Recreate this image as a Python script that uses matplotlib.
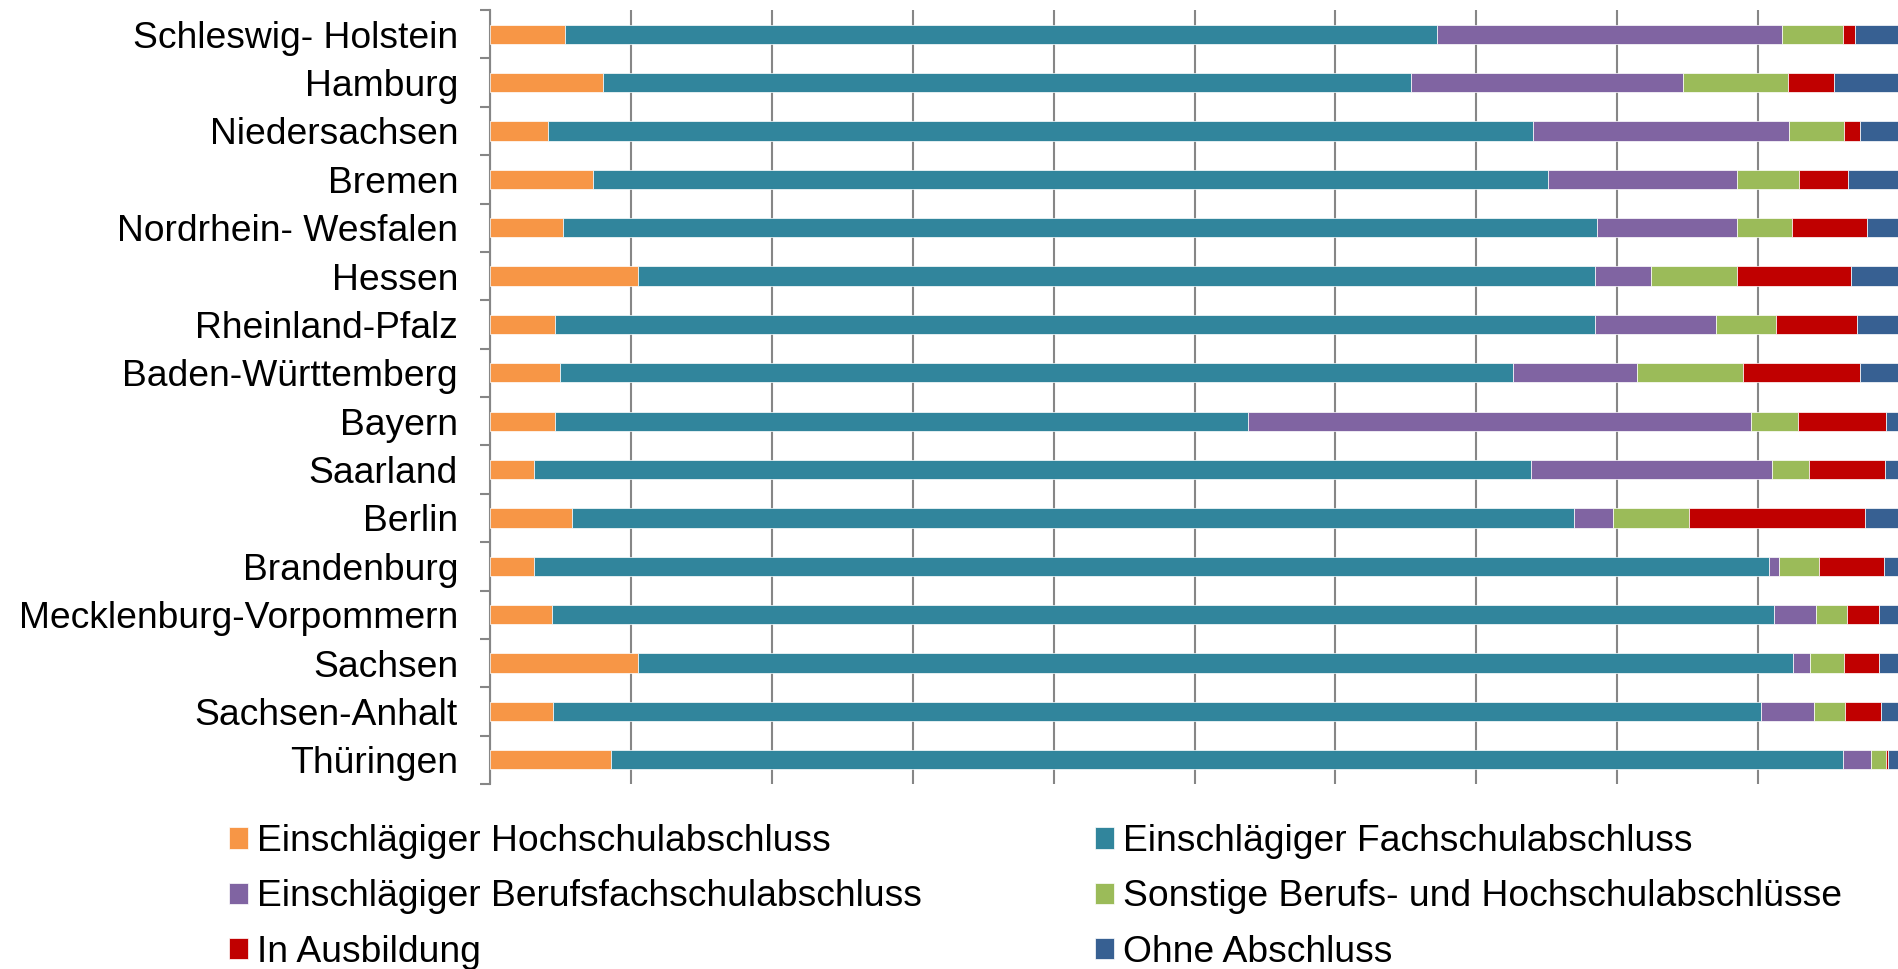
import matplotlib

matplotlib.use("Agg")
import matplotlib.pyplot as plt
import numpy as np

plt.rcParams["font.family"] = ["Liberation Sans", "DejaVu Sans"]

# Bundeslaender, top to bottom
laender = [
    "Schleswig- Holstein", "Hamburg", "Niedersachsen", "Bremen",
    "Nordrhein- Wesfalen", "Hessen", "Rheinland-Pfalz", "Baden-Württemberg",
    "Bayern", "Saarland", "Berlin", "Brandenburg",
    "Mecklenburg-Vorpommern", "Sachsen", "Sachsen-Anhalt", "Thüringen",
]

# shares in percent
hochschule = [5.3, 8.0, 4.1, 7.3, 5.2, 10.5, 4.6, 5.0, 4.6, 3.1, 5.8, 3.1, 4.4, 10.5, 4.5, 8.6]
fachschule = [61.9, 57.4, 69.9, 67.8, 73.4, 67.9, 73.8, 67.6, 49.2, 70.8, 71.1, 87.7, 86.7, 82.0, 85.7, 87.4]
berufsfach = [24.5, 19.3, 18.2, 13.4, 9.9, 4.0, 8.6, 8.8, 35.7, 17.1, 2.8, 0.7, 3.0, 1.2, 3.8, 2.0]
sonstige = [4.3, 7.4, 3.9, 4.4, 3.9, 6.1, 4.3, 7.5, 3.3, 2.6, 5.4, 2.8, 2.2, 2.4, 2.2, 1.1]
ausbildung = [0.9, 3.3, 1.1, 3.5, 5.3, 8.1, 5.7, 8.3, 6.3, 5.4, 12.5, 4.6, 2.3, 2.5, 2.5, 0.15]
ohne = [3.1, 4.6, 2.7, 3.6, 2.2, 3.4, 3.0, 2.8, 0.9, 1.0, 2.4, 1.1, 1.3, 1.4, 1.3, 0.75]

series = [
    ("Einschlägiger Hochschulabschluss", hochschule, "#F79646"),
    ("Einschlägiger Fachschulabschluss", fachschule, "#31859C"),
    ("Einschlägiger Berufsfachschulabschluss", berufsfach, "#8064A2"),
    ("Sonstige Berufs- und Hochschulabschlüsse", sonstige, "#9BBB59"),
    ("In Ausbildung", ausbildung, "#C00000"),
    ("Ohne Abschluss", ohne, "#376092"),
]

W, H = 1898, 969
fig = plt.figure(figsize=(W / 100, H / 100), dpi=100)
ax = fig.add_axes([490 / W, 1 - 784 / H, 1409 / W, 774 / H])

y = np.arange(len(laender))
left = np.zeros(len(laender))
handles = []
for name, vals, col in series:
    vals = np.array(vals, dtype=float)
    b = ax.barh(y, vals, left=left, height=0.4, color=col,
                edgecolor="white", linewidth=0.5, label=name, zorder=3)
    handles.append(b)
    left += vals

ax.set_xlim(0, 100)
ax.set_ylim(len(laender) - 0.5, -0.5)
ax.set_xticks(np.arange(0, 101, 10))
ax.tick_params(axis="x", length=0, labelbottom=False)
ax.grid(axis="x", color="#868686", linewidth=1.5, zorder=0)

ax.set_yticks(y)
ax.set_yticklabels(laender, fontsize=26.8)
ax.tick_params(axis="y", which="major", length=0, pad=23)
ax.set_yticks(np.arange(-0.5, len(laender), 1), minor=True)
ax.tick_params(axis="y", which="minor", length=7.2, width=1.5, color="#868686")

for s in ("top", "right", "bottom"):
    ax.spines[s].set_visible(False)
ax.spines["left"].set_color("#868686")
ax.spines["left"].set_linewidth(1.5)

# legend row-wise: reorder for column-wise filling
order = [0, 2, 4, 1, 3, 5]
fig.legend([handles[i] for i in order], [series[i][0] for i in order],
           ncol=2, loc="upper left", bbox_to_anchor=(229 / W, 1 - 824 / H),
           frameon=False, fontsize=26.8, borderpad=0, borderaxespad=0,
           handlelength=0.51, handleheight=0.51, handletextpad=0.24,
           labelspacing=0.55, columnspacing=4.65)

fig.savefig("out.png", dpi=100)
